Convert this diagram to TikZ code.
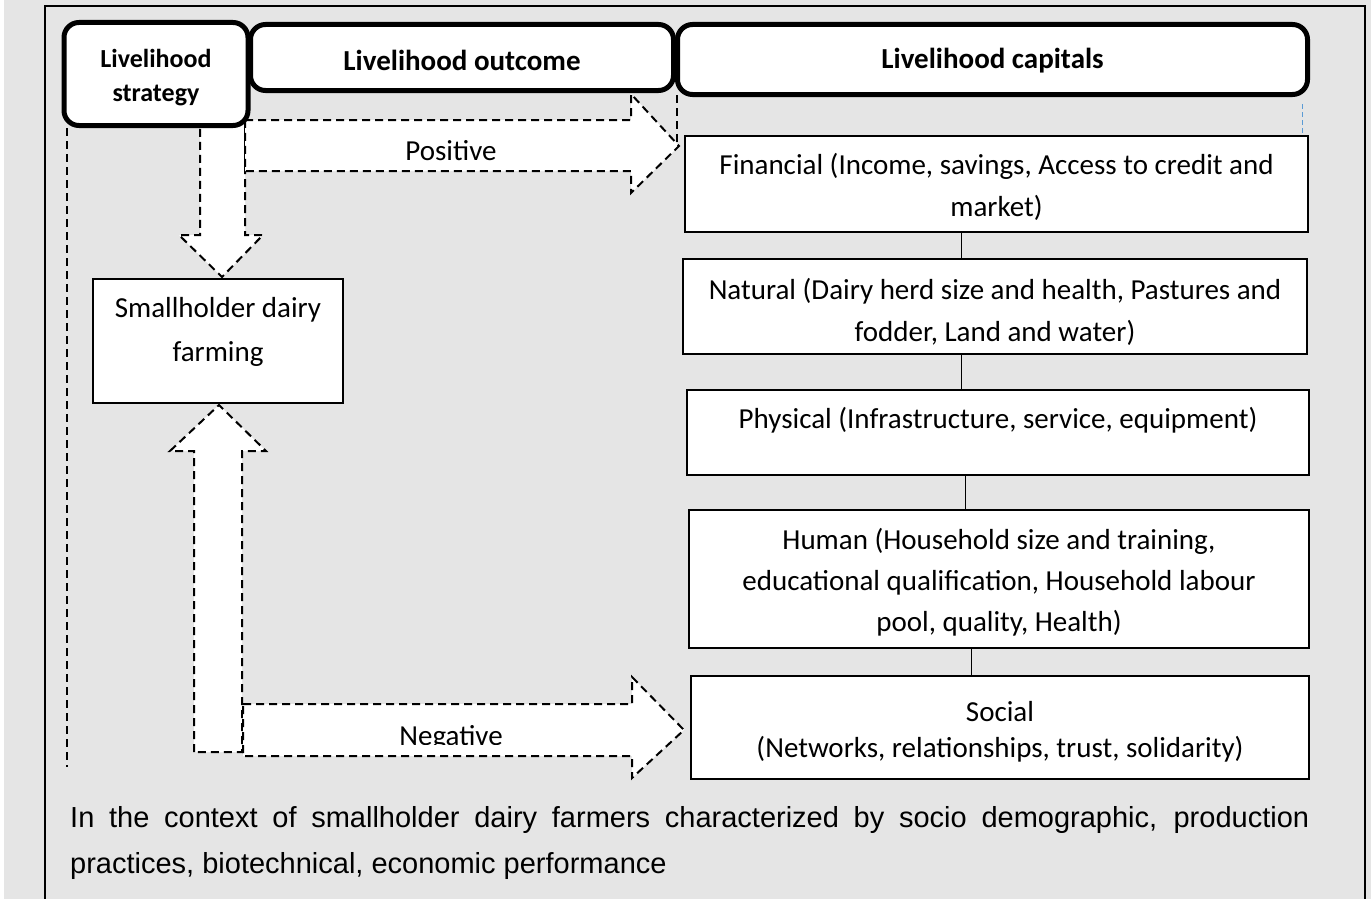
\documentclass[tikz,border=0pt]{standalone}
\usepackage{fontspec}
\setmainfont{Carlito}
\newfontfamily\arialfont{Liberation Sans}
\definecolor{bggray}{RGB}{229,229,229}
\definecolor{guideblue}{RGB}{91,155,213}
\begin{document}
\begin{tikzpicture}[x=1pt,y=-1pt,
  hdr/.style={draw,line width=5pt,rounded corners=15pt,fill=white,inner sep=0pt,align=center,font=\bfseries\fontsize{29}{34}\selectfont},
  cbox/.style={draw,line width=2pt,fill=white,inner sep=0pt,align=center,font=\fontsize{29}{41}\selectfont},
  blockarrow/.style={draw,line width=2pt,dash pattern=on 8pt off 5pt,fill=white},
  thinlink/.style={draw,line width=1pt},
  guide/.style={draw,line width=1.5pt,dash pattern=on 8pt off 5pt},
  lbl/.style={inner sep=0pt,anchor=base,font=\fontsize{29}{34}\selectfont}]
\useasboundingbox (0,0) rectangle (1371,899);
\fill[white] (0,0) rectangle (1371,899);
\fill[bggray] (4,0) rectangle (1371,899);
\draw[line width=1.5pt] (45,899) -- (45,6) -- (1365,6) -- (1365,899);

% guide lines
\coordinate (gl1) at (67,128);
\coordinate (gl2) at (67,767);
\draw[guide] (gl1) -- (gl2);
\coordinate (gm1) at (677,95);
\coordinate (gm2) at (677,143);
\draw[guide] (gm1) -- (gm2);
\coordinate (gb1) at (1302,104);
\coordinate (gb2) at (1302,134);
\draw[guideblue,line width=1pt,dash pattern=on 5pt off 3pt] (gb1) -- (gb2);

% block arrows
\draw[blockarrow] (200,120) -- (245,120) -- (245,235) -- (263,235) -- (222,277) -- (179,235) -- (200,235) -- cycle;
\draw[blockarrow] (245,120) -- (631,120) -- (631,94) -- (679,146) -- (631,193) -- (631,171) -- (245,171) -- cycle;
\draw[blockarrow] (194,752) -- (194,451) -- (170,451) -- (219,405) -- (266,451) -- (242,451) -- (242,752) -- cycle;
\draw[blockarrow] (243,704) -- (632,704) -- (632,677) -- (684,730) -- (632,778) -- (632,756) -- (243,756) -- cycle;
\node[lbl] (pos) at (451,160) {Positive};
\begin{scope}
\clip (243,704) rectangle (632,744);
\node[lbl] (neg) at (451,745) {Negative};
\end{scope}

% headers
\node[hdr,minimum width=423pt,minimum height=66pt,text height=33pt,text depth=7pt] (outc) at (462,57.5) {Livelihood outcome};
\node[hdr,minimum width=630pt,minimum height=70pt,text height=25pt,text depth=7pt] (capi) at (992.5,59.5) {Livelihood capitals};
\node[hdr,minimum width=184pt,minimum height=103pt,font=\bfseries\fontsize{26}{34}\selectfont,text height=62pt,text depth=7pt] (strat) at (156,74) {Livelihood\\strategy};

% smallholder
\node[cbox,minimum width=250pt,minimum height=124pt,font=\fontsize{29}{44}\selectfont,text height=47pt,text depth=7pt] (farm) at (218,341) {Smallholder dairy\\farming};

% capitals boxes
\node[cbox,minimum width=623pt,minimum height=96pt,font=\fontsize{29}{42}\selectfont,text height=71pt,text depth=7pt] (fin) at (996.5,184) {Financial (Income, savings, Access to credit and\\market)};
\node[cbox,minimum width=624pt,minimum height=95pt,font=\fontsize{29}{42}\selectfont,text height=76pt,text depth=7pt] (nat) at (995,306.5) {Natural (Dairy herd size and health, Pastures and\\fodder, Land and water)};
\node[cbox,minimum width=622pt,minimum height=85pt,text height=20pt,text depth=29pt] (phy) at (998,432.5) {Physical (Infrastructure, service, equipment)};
\node[cbox,minimum width=620pt,minimum height=138pt,text height=111pt,text depth=7pt] (hum) at (999,579) {Human (Household size and training,\\educational qualification, Household labour\\pool, quality, Health)};
\node[cbox,minimum width=618pt,minimum height=103pt,font=\fontsize{29}{36}\selectfont,text height=66pt,text depth=7pt] (soc) at (1000,727.5) {Social\\(Networks, relationships, trust, solidarity)};

\draw[thinlink] ([xshift=-35.5pt]fin.south) -- ([xshift=-34pt]nat.north);
\draw[thinlink] ([xshift=-34pt]nat.south) -- ([xshift=-37pt]phy.north);
\draw[thinlink] ([xshift=-33pt]phy.south) -- ([xshift=-34pt]hum.north);
\draw[thinlink] ([xshift=-28pt]hum.south) -- ([xshift=-29pt]soc.north);

% context text
\node[inner sep=0pt,anchor=base west] (ctx) at (70,827) {\parbox[t]{1239pt}{\arialfont\fontsize{29}{46}\selectfont\makebox[\linewidth][s]{In the context of smallholder dairy farmers characterized by socio demographic, production}\newline practices, biotechnical, economic performance}};
\end{tikzpicture}
\end{document}
